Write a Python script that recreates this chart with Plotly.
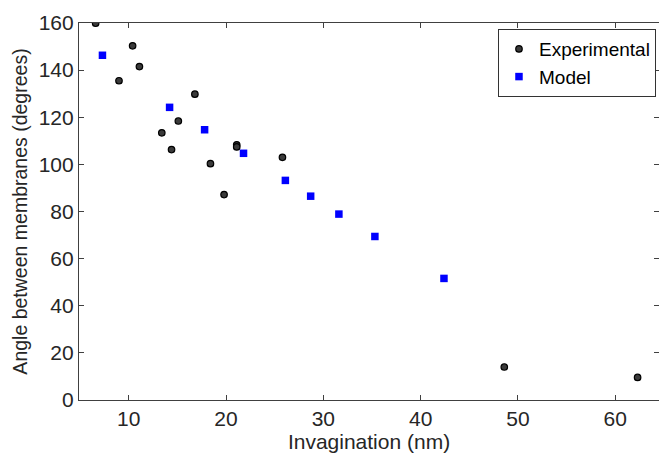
import plotly.graph_objects as go

exp_x = [6.6, 10.4, 11.1, 9.0, 16.8, 15.1, 13.4, 14.4, 21.1, 21.1, 18.4, 25.8, 19.8, 48.6, 62.3]
exp_y = [159.9, 150.3, 141.5, 135.5, 129.8, 118.4, 113.4, 106.3, 108.3, 107.4, 100.3, 103.0, 87.2, 14.0, 9.6]

model_x = [7.3, 14.2, 17.8, 21.8, 26.1, 28.7, 31.6, 35.3, 42.4]
model_y = [146.3, 124.2, 114.7, 104.7, 93.2, 86.5, 78.9, 69.4, 51.6]

x_ticks = [10, 20, 30, 40, 50, 60]
y_ticks = [0, 20, 40, 60, 80, 100, 120, 140, 160]

font = "Liberation Sans, Arial, Helvetica, sans-serif"
txt = "#262626"

fig = go.Figure()
fig.add_trace(go.Scatter(
    x=exp_x, y=exp_y, mode="markers", name="Experimental",
    marker=dict(symbol="circle", size=6.5, color="#3a3a3a",
                line=dict(color="black", width=1.2)),
))
fig.add_trace(go.Scatter(
    x=model_x, y=model_y, mode="markers", name="Model",
    marker=dict(symbol="square", size=7.5, color="#0000ff",
                line=dict(width=0)),
))

axis_common = dict(
    showgrid=False, zeroline=False, showline=True, linecolor="#404040",
    linewidth=1.2, mirror="ticks", ticks="inside", ticklen=5,
    tickcolor="#404040", tickwidth=1, automargin=False,
    tickfont=dict(family=font, size=21, color=txt),
)

fig.update_layout(
    width=659, height=453,
    margin=dict(l=79, r=0, t=23, b=53),
    paper_bgcolor="white", plot_bgcolor="white",
    font=dict(family=font, color=txt),
    xaxis=dict(range=[4.89, 64.5], tickvals=x_ticks,
               title=dict(text="Invagination (nm)", font=dict(family=font, size=21, color=txt), standoff=0),
               **axis_common),
    yaxis=dict(range=[0, 160], tickvals=y_ticks,
               title=dict(text="Angle between membranes (degrees)", font=dict(family=font, size=19.5, color=txt), standoff=5),
               **axis_common),
    legend=dict(x=0.9948, xanchor="right", y=0.984, yanchor="top",
                bordercolor="#333333", borderwidth=1, bgcolor="white",
                font=dict(family=font, size=19, color="black"),
                tracegroupgap=0, itemsizing="trace"),
    showlegend=True,
)

fig.write_html("out.html", config={"displayModeBar": False},
               post_script="document.body.style.margin='0px';")
